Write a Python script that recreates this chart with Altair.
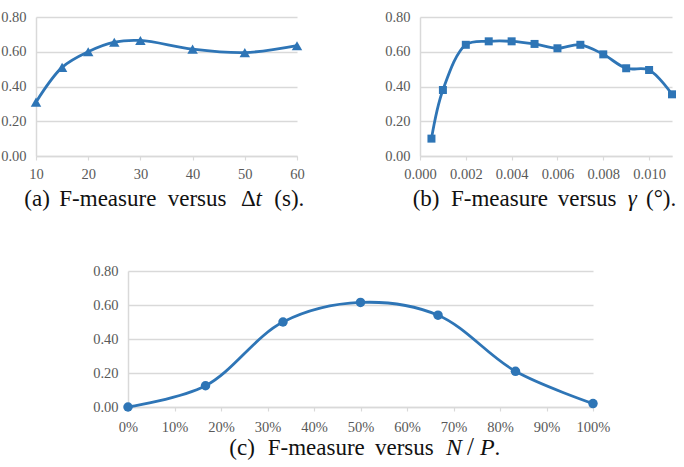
import altair as alt
import pandas as pd

# (a) F-measure against the time window Δt (s)
dt_s = [10, 15, 20, 25, 30, 40, 50, 60]
f_dt = [0.31, 0.51, 0.60, 0.655, 0.665, 0.615, 0.595, 0.635]

# (b) F-measure against the angle threshold γ (°)
gamma_deg = [0.0005, 0.001, 0.002, 0.003, 0.004, 0.005, 0.006, 0.007, 0.008, 0.009, 0.010, 0.011]
f_gamma = [0.10, 0.38, 0.64, 0.66, 0.66, 0.645, 0.62, 0.64, 0.585, 0.505, 0.495, 0.355]

# (c) F-measure against the ratio N/P
np_ratio = [0.0, 0.1667, 0.3333, 0.5, 0.6667, 0.8333, 1.0]
f_np = [0.0, 0.125, 0.50, 0.615, 0.54, 0.21, 0.02]

y_ticks = [0.0, 0.2, 0.4, 0.6, 0.8]
dt_ticks = [10, 20, 30, 40, 50, 60]
gamma_ticks = [0.0, 0.002, 0.004, 0.006, 0.008, 0.010]
np_ticks = [0.0, 0.1, 0.2, 0.3, 0.4, 0.5, 0.6, 0.7, 0.8, 0.9, 1.0]

BLUE = "#2E75B6"
GRID = "#d9d9d9"
LABEL = "#595959"
FONT = "'Liberation Serif', 'Times New Roman', Times, serif"

one_row = pd.DataFrame({"k": [0]})


def caption_layers(parts, baseline_y):
    layers = []
    for text, px, italic, size in parts:
        layers.append(
            alt.Chart(one_row)
            .mark_text(
                text=text,
                align="left",
                baseline="alphabetic",
                font=FONT,
                fontSize=size,
                fontStyle="italic" if italic else "normal",
                color="#111111",
            )
            .encode(x=alt.value(px), y=alt.value(baseline_y))
        )
    return layers


def panel(xs, ys, xdomain, xvalues, xformat, shape, msize, w, h, caption, cap_y, xpad):
    df = pd.DataFrame({"x": xs, "f": ys})
    x = alt.X(
        "x:Q",
        scale=alt.Scale(domain=xdomain, nice=False, zero=False),
        axis=alt.Axis(
            values=xvalues, format=xformat, title=None, grid=False,
            domainColor=GRID, domainWidth=1.5, tickColor=GRID, tickWidth=1.2,
            tickSize=4, labelPadding=xpad, labelColor=LABEL, labelFont=FONT,
            labelFontSize=14.5, labelOverlap=False, labelFlush=False,
        ),
    )
    y = alt.Y(
        "f:Q",
        scale=alt.Scale(domain=[0, 0.8], nice=False),
        axis=alt.Axis(
            values=y_ticks, format=".2f", title=None, grid=True,
            gridColor=GRID, gridWidth=1.5, domainColor=GRID, domainWidth=1.5,
            ticks=False, labelPadding=10, labelColor=LABEL, labelFont=FONT,
            labelFontSize=14.5, labelOverlap=False, labelFlush=False,
        ),
    )
    base = alt.Chart(df).encode(x=x, y=y)
    line = base.mark_line(color=BLUE, strokeWidth=2.8, interpolate="catmull-rom")
    pts = base.mark_point(shape=shape, size=msize, filled=True, color=BLUE, opacity=1)
    return alt.layer(line, pts, *caption_layers(caption, cap_y)).properties(width=w, height=h)


cap_a = [("(a)", -11.7, False, 23), ("F-measure", 23.3, False, 23), ("versus", 131.7, False, 23),
         ("Δ", 205, False, 23), ("t", 219.5, True, 23), ("(s).", 238.3, False, 23)]
cap_b = [("(b)", -7.3, False, 23), ("F-measure", 31, False, 23), ("versus", 137.7, False, 23),
         ("γ", 207.7, True, 23), ("(°).", 226, False, 23)]
cap_c = [("(c)", 101.3, False, 23), ("F-measure", 139.7, False, 23), ("versus", 247, False, 23),
         ("N", 318, True, 24), ("/", 339, False, 25), ("P", 352, True, 24), (".", 366.5, False, 23)]

pa = panel(dt_s, f_dt, [10, 60], dt_ticks, "d", "triangle-up", 110, 261, 139, cap_a, 189, 7)
pb = panel(gamma_deg, f_gamma, [0, 0.011], gamma_ticks, ".3f", "square", 64, 252, 139, cap_b, 189, 7)
pc = panel(np_ratio, f_np, [0, 1], np_ticks, ".0%", "circle", 90, 465, 136, cap_c, 183.7, 9)

spacer = (
    alt.Chart(one_row)
    .mark_point(opacity=0)
    .encode(x=alt.value(0), y=alt.value(0))
    .properties(width=92, height=136)
)

top = alt.hconcat(pa, pb, spacing=123, bounds="flush")
bottom = alt.hconcat(spacer, pc, spacing=0, bounds="flush")

# nested rows carry no height of their own under flush bounds,
# so the row gap is measured from the top of the first row
chart = (
    alt.vconcat(top, bottom, spacing=254, bounds="flush")
    .properties(padding={"left": 0, "top": 9, "right": 0, "bottom": 0}, background="white")
    .configure_view(stroke=None)
)

chart.save("out.html", embed_options={"renderer": "svg", "actions": False})
